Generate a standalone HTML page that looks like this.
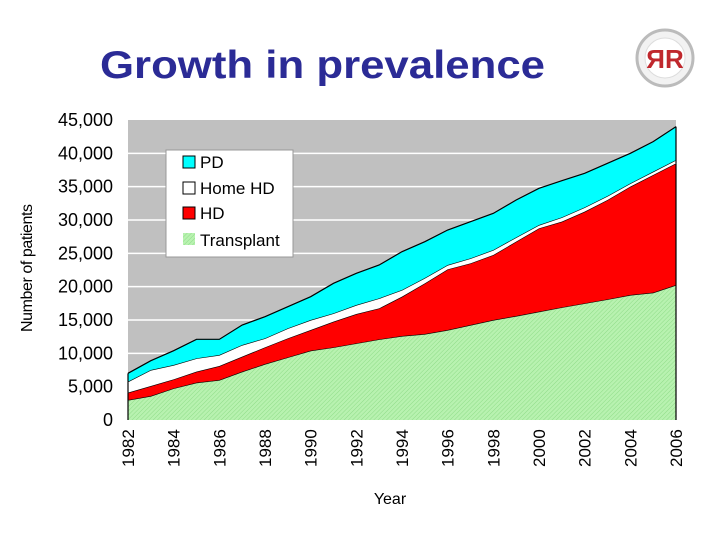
<!DOCTYPE html>
<html><head><meta charset="utf-8"><style>
body{margin:0;background:#fff;}
svg text{font-family:"Liberation Sans",Arial,sans-serif;}
</style></head><body>
<svg width="720" height="540" viewBox="0 0 720 540" xmlns="http://www.w3.org/2000/svg">
<defs>
<pattern id="hatch" width="3" height="3" patternUnits="userSpaceOnUse" patternTransform="rotate(45)">
<rect width="3" height="3" fill="#b8f2b0"/><line x1="0" y1="0" x2="0" y2="3" stroke="#8fdc88" stroke-width="1"/>
</pattern>
</defs>
<text x="100" y="78" font-size="39" font-weight="bold" fill="#2b2b96" textLength="445" lengthAdjust="spacingAndGlyphs">Growth in prevalence</text>
<g>
<circle cx="665" cy="58" r="28" fill="#f2f2f2" stroke="#bbb" stroke-width="3"/>
<circle cx="665" cy="58" r="20" fill="#fff" stroke="#ddd"/>
<text x="665" y="68" font-size="26" font-weight="bold" fill="#c0282d" text-anchor="middle" font-family="Liberation Serif,serif">ЯR</text>
</g>
<rect x="128" y="120" width="548" height="300" fill="#c0c0c0"/>
<g id="grid"></g>
<g id="areas"></g>
<g id="yticks"></g>
<g id="xticks"></g>
<text x="390" y="504" font-size="16" text-anchor="middle">Year</text>
<text transform="translate(32,268) rotate(-90)" font-size="16" text-anchor="middle" textLength="128">Number of patients</text>
<g>
<rect x="166" y="150" width="127" height="107" fill="#fff" stroke="#999"/>
<rect x="183" y="156" width="12" height="12" fill="#00ffff" stroke="#000"/>
<text x="200" y="168" font-size="17">PD</text>
<rect x="183" y="182" width="12" height="12" fill="#fff" stroke="#000"/>
<text x="200" y="194" font-size="17">Home HD</text>
<rect x="183" y="207" width="12" height="12" fill="#ff0000" stroke="#000"/>
<text x="200" y="219" font-size="17">HD</text>
<rect x="183" y="233" width="12" height="12" fill="url(#hatch)"/>
<text x="200" y="246" font-size="17">Transplant</text>
</g>
</svg>
<script>
const years=[1982,1983,1984,1985,1986,1987,1988,1989,1990,1991,1992,1993,1994,1995,1996,1997,1998,1999,2000,2001,2002,2003,2004,2005,2006];
const transplant=[3000,3600,4750,5600,6000,7250,8400,9400,10400,10900,11500,12100,12600,12900,13500,14250,15000,15600,16250,16900,17500,18100,18750,19100,20250];
const hd=[1100,1500,1350,1650,2100,2250,2500,2850,3100,3850,4400,4650,5900,7600,9100,9250,9750,11150,12500,12850,13750,14900,16250,17650,18250];
const homeHd=[1650,2400,2150,2000,1650,1750,1350,1500,1500,1250,1350,1500,1000,800,650,750,750,650,500,650,650,600,500,500,500];
const pd=[1250,1400,2150,2850,2350,3000,3250,3250,3500,4500,4750,5000,5750,5450,5250,5500,5500,5600,5500,5500,5100,4900,4500,4500,5000];
const yTicks=[0,5000,10000,15000,20000,25000,30000,35000,40000,45000];
const yTickLabels=["0","5,000","10,000","15,000","20,000","25,000","30,000","35,000","40,000","45,000"];
const xTickYears=[1982,1984,1986,1988,1990,1992,1994,1996,1998,2000,2002,2004,2006];
const NS="http://www.w3.org/2000/svg";
const X=y=>128+(y-1982)*(548/24);
const Y=v=>420-v*300/45000;
function mk(tag,attrs,parent){const e=document.createElementNS(NS,tag);for(const k in attrs)e.setAttribute(k,attrs[k]);parent.appendChild(e);return e;}
const grid=document.getElementById('grid'),yt=document.getElementById('yticks'),xt=document.getElementById('xticks'),ar=document.getElementById('areas');
yTicks.forEach((v,i)=>{
 if(v>0&&v<45000){const l=mk('line',{x1:128,x2:676,y1:Y(v),y2:Y(v),stroke:'#fff','stroke-width':1.5},grid);
 
 }
 const t=mk('text',{x:113,y:Y(v)+6,'font-size':18,'text-anchor':'end'},yt);t.textContent=yTickLabels[i];
 
 
});
xTickYears.forEach(yr=>{
 const t=mk('text',{transform:`translate(${X(yr)+6},467) rotate(-90)`,'font-size':17},xt);t.textContent=yr;
 
 
});
const series=[[transplant,'url(#hatch)','area-transplant'],[hd,'#ff0000','area-hd'],[homeHd,'#ffffff','area-home-hd'],[pd,'#00ffff','area-pd']];
let base=years.map(()=>0);
series.forEach(([vals,fill,name])=>{
 const top=base.map((b,i)=>b+vals[i]);
 let d='M'+years.map((y,i)=>X(y)+','+Y(top[i])).join(' L');
 for(let i=years.length-1;i>=0;i--)d+=' L'+X(years[i])+','+Y(base[i]);
 d+=' Z';
 const p=mk('path',{d:d,fill:fill,stroke:'none'},ar);
 
 
 const n=years.length-1;
 const ln=mk('path',{d:'M'+years.map((y,i)=>X(y)+','+Y(top[i])).join(' L')+` M${X(years[0])},${Y(top[0])} L${X(years[0])},${Y(base[0])} M${X(years[n])},${Y(top[n])} L${X(years[n])},${Y(base[n])}`,fill:'none',stroke:'#000','stroke-width':1.2},ar);
 
 
 base=top;
});
</script>
</body></html>
